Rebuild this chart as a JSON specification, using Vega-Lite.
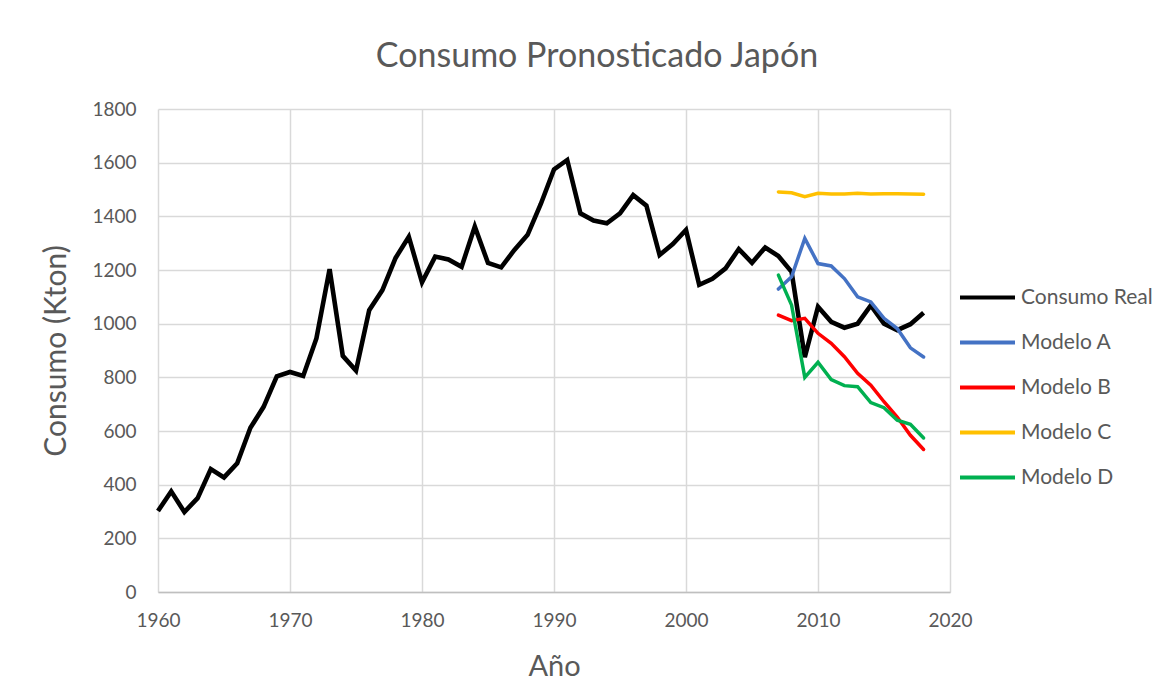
{
  "$schema": "https://vega.github.io/schema/vega-lite/v6.json",
  "width": 792,
  "height": 483,
  "autosize": "none",
  "padding": {"left": 158, "top": 109, "right": 220, "bottom": 92},
  "background": "white",
  "title": {
    "text": "Consumo Pronosticado Japón",
    "font": "Lato",
    "fontSize": 34,
    "fontWeight": "normal",
    "color": "#595959",
    "anchor": "middle",
    "dx": 43,
    "dy": 41,
    "offset": 40,
    "baseline": "alphabetic"
  },
  "config": {
    "font": "Lato",
    "view": {"stroke": null},
    "axis": {
      "labelFont": "Lato",
      "labelFontSize": 19,
      "labelColor": "#595959",
      "labelFlush": false,
      "titleFont": "Lato",
      "titleFontWeight": "normal",
      "titleColor": "#595959",
      "gridColor": "#d9d9d9",
      "gridWidth": 1.5,
      "ticks": false
    },
    "legend": {
      "labelFont": "Lato",
      "labelFontSize": 21,
      "labelColor": "#595959"
    }
  },
  "data": {
    "values": [
      {"year": 1960, "series": "Consumo Real", "value": 302},
      {"year": 1961, "series": "Consumo Real", "value": 375},
      {"year": 1962, "series": "Consumo Real", "value": 298},
      {"year": 1963, "series": "Consumo Real", "value": 350},
      {"year": 1964, "series": "Consumo Real", "value": 458},
      {"year": 1965, "series": "Consumo Real", "value": 427},
      {"year": 1966, "series": "Consumo Real", "value": 480},
      {"year": 1967, "series": "Consumo Real", "value": 612},
      {"year": 1968, "series": "Consumo Real", "value": 690},
      {"year": 1969, "series": "Consumo Real", "value": 804},
      {"year": 1970, "series": "Consumo Real", "value": 820},
      {"year": 1971, "series": "Consumo Real", "value": 805},
      {"year": 1972, "series": "Consumo Real", "value": 945},
      {"year": 1973, "series": "Consumo Real", "value": 1203},
      {"year": 1974, "series": "Consumo Real", "value": 880},
      {"year": 1975, "series": "Consumo Real", "value": 825},
      {"year": 1976, "series": "Consumo Real", "value": 1050},
      {"year": 1977, "series": "Consumo Real", "value": 1125},
      {"year": 1978, "series": "Consumo Real", "value": 1245},
      {"year": 1979, "series": "Consumo Real", "value": 1324},
      {"year": 1980, "series": "Consumo Real", "value": 1154},
      {"year": 1981, "series": "Consumo Real", "value": 1250},
      {"year": 1982, "series": "Consumo Real", "value": 1239},
      {"year": 1983, "series": "Consumo Real", "value": 1212},
      {"year": 1984, "series": "Consumo Real", "value": 1362},
      {"year": 1985, "series": "Consumo Real", "value": 1226},
      {"year": 1986, "series": "Consumo Real", "value": 1210},
      {"year": 1987, "series": "Consumo Real", "value": 1275},
      {"year": 1988, "series": "Consumo Real", "value": 1331},
      {"year": 1989, "series": "Consumo Real", "value": 1446},
      {"year": 1990, "series": "Consumo Real", "value": 1575},
      {"year": 1991, "series": "Consumo Real", "value": 1610},
      {"year": 1992, "series": "Consumo Real", "value": 1411},
      {"year": 1993, "series": "Consumo Real", "value": 1384},
      {"year": 1994, "series": "Consumo Real", "value": 1374},
      {"year": 1995, "series": "Consumo Real", "value": 1411},
      {"year": 1996, "series": "Consumo Real", "value": 1479},
      {"year": 1997, "series": "Consumo Real", "value": 1440},
      {"year": 1998, "series": "Consumo Real", "value": 1256},
      {"year": 1999, "series": "Consumo Real", "value": 1297},
      {"year": 2000, "series": "Consumo Real", "value": 1349},
      {"year": 2001, "series": "Consumo Real", "value": 1145},
      {"year": 2002, "series": "Consumo Real", "value": 1167},
      {"year": 2003, "series": "Consumo Real", "value": 1206},
      {"year": 2004, "series": "Consumo Real", "value": 1278},
      {"year": 2005, "series": "Consumo Real", "value": 1227},
      {"year": 2006, "series": "Consumo Real", "value": 1284},
      {"year": 2007, "series": "Consumo Real", "value": 1252},
      {"year": 2008, "series": "Consumo Real", "value": 1193},
      {"year": 2009, "series": "Consumo Real", "value": 875},
      {"year": 2010, "series": "Consumo Real", "value": 1063},
      {"year": 2011, "series": "Consumo Real", "value": 1007},
      {"year": 2012, "series": "Consumo Real", "value": 985},
      {"year": 2013, "series": "Consumo Real", "value": 1000},
      {"year": 2014, "series": "Consumo Real", "value": 1068},
      {"year": 2015, "series": "Consumo Real", "value": 1000},
      {"year": 2016, "series": "Consumo Real", "value": 976},
      {"year": 2017, "series": "Consumo Real", "value": 998},
      {"year": 2018, "series": "Consumo Real", "value": 1041},
      {"year": 2007, "series": "Modelo A", "value": 1129},
      {"year": 2008, "series": "Modelo A", "value": 1175},
      {"year": 2009, "series": "Modelo A", "value": 1318},
      {"year": 2010, "series": "Modelo A", "value": 1224},
      {"year": 2011, "series": "Modelo A", "value": 1215},
      {"year": 2012, "series": "Modelo A", "value": 1168},
      {"year": 2013, "series": "Modelo A", "value": 1100},
      {"year": 2014, "series": "Modelo A", "value": 1081},
      {"year": 2015, "series": "Modelo A", "value": 1020},
      {"year": 2016, "series": "Modelo A", "value": 982},
      {"year": 2017, "series": "Modelo A", "value": 910},
      {"year": 2018, "series": "Modelo A", "value": 876},
      {"year": 2007, "series": "Modelo B", "value": 1032},
      {"year": 2008, "series": "Modelo B", "value": 1011},
      {"year": 2009, "series": "Modelo B", "value": 1020},
      {"year": 2010, "series": "Modelo B", "value": 964},
      {"year": 2011, "series": "Modelo B", "value": 927},
      {"year": 2012, "series": "Modelo B", "value": 877},
      {"year": 2013, "series": "Modelo B", "value": 815},
      {"year": 2014, "series": "Modelo B", "value": 771},
      {"year": 2015, "series": "Modelo B", "value": 709},
      {"year": 2016, "series": "Modelo B", "value": 652},
      {"year": 2017, "series": "Modelo B", "value": 584},
      {"year": 2018, "series": "Modelo B", "value": 531},
      {"year": 2007, "series": "Modelo C", "value": 1491},
      {"year": 2008, "series": "Modelo C", "value": 1488},
      {"year": 2009, "series": "Modelo C", "value": 1473},
      {"year": 2010, "series": "Modelo C", "value": 1486},
      {"year": 2011, "series": "Modelo C", "value": 1483},
      {"year": 2012, "series": "Modelo C", "value": 1483},
      {"year": 2013, "series": "Modelo C", "value": 1486},
      {"year": 2014, "series": "Modelo C", "value": 1483},
      {"year": 2015, "series": "Modelo C", "value": 1484},
      {"year": 2016, "series": "Modelo C", "value": 1484},
      {"year": 2017, "series": "Modelo C", "value": 1483},
      {"year": 2018, "series": "Modelo C", "value": 1482},
      {"year": 2007, "series": "Modelo D", "value": 1181},
      {"year": 2008, "series": "Modelo D", "value": 1069},
      {"year": 2009, "series": "Modelo D", "value": 800},
      {"year": 2010, "series": "Modelo D", "value": 856},
      {"year": 2011, "series": "Modelo D", "value": 792},
      {"year": 2012, "series": "Modelo D", "value": 769},
      {"year": 2013, "series": "Modelo D", "value": 765},
      {"year": 2014, "series": "Modelo D", "value": 706},
      {"year": 2015, "series": "Modelo D", "value": 687},
      {"year": 2016, "series": "Modelo D", "value": 640},
      {"year": 2017, "series": "Modelo D", "value": 625},
      {"year": 2018, "series": "Modelo D", "value": 574}
    ]
  },
  "encoding": {
    "x": {
      "field": "year",
      "type": "quantitative",
      "scale": {"domain": [1960, 2020], "nice": false, "zero": false},
      "axis": {
        "title": "Año",
        "titleFontSize": 29,
        "values": [1960, 1970, 1980, 1990, 2000, 2010, 2020],
        "format": "d",
        "labelPadding": 19,
        "titlePadding": 22,
        "domain": true,
        "domainColor": "#bfbfbf",
        "domainWidth": 1.5
      }
    },
    "y": {
      "field": "value",
      "type": "quantitative",
      "scale": {"domain": [0, 1800], "nice": false},
      "axis": {
        "title": "Consumo (Kton)",
        "titleFontSize": 30,
        "values": [0, 200, 400, 600, 800, 1000, 1200, 1400, 1600, 1800],
        "format": "d",
        "labelPadding": 22,
        "titlePadding": 20,
        "domain": false
      }
    },
    "color": {
      "field": "series",
      "type": "nominal",
      "scale": {
        "domain": ["Consumo Real", "Modelo A", "Modelo B", "Modelo C", "Modelo D"],
        "range": ["#000000", "#4472C4", "#FF0000", "#FFC000", "#00B050"]
      },
      "legend": {
        "title": null,
        "orient": "none",
        "legendX": 800,
        "legendY": 159,
        "symbolType": "stroke",
        "symbolSize": 3025,
        "symbolStrokeWidth": 4,
        "rowPadding": 5,
        "labelOffset": 4,
        "padding": 0
      }
    }
  },
  "layer": [
    {
      "transform": [{"filter": "datum.series === 'Consumo Real'"}],
      "mark": {"type": "line", "strokeWidth": 4.6, "strokeJoin": "miter"}
    },
    {
      "transform": [{"filter": "datum.series !== 'Consumo Real'"}],
      "mark": {"type": "line", "strokeWidth": 3.5, "strokeCap": "round"}
    }
  ]
}
